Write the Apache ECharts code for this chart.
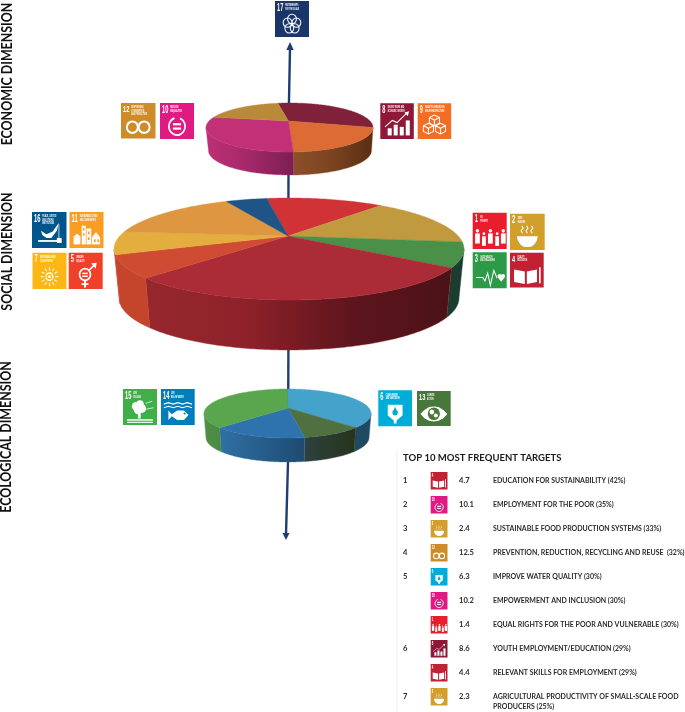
<!DOCTYPE html>
<html><head><meta charset="utf-8">
<style>html,body{margin:0;padding:0;background:#fff}#c{width:685px;height:712px}</style>
<script src="https://cdn.jsdelivr.net/npm/echarts@6/dist/echarts.min.js"></script>
</head><body><div id="c"></div>
<script>
// ---------- data (estimated shares of each pie, %) ----------
const econGoals = ['SDG 8','SDG 9','SDG 10','SDG 12'];
const econValues = [27.2,24.3,32.6,15.9];
const socialGoals = ['SDG 1','SDG 2','SDG 3','SDG 4','SDG 5','SDG 7','SDG 11','SDG 16'];
const socialValues = [10.8,14.0,8.3,34.2,7.9,7.3,13.7,3.8];
const ecoGoals = ['SDG 6','SDG 13','SDG 14','SDG 15'];
const ecoValues = [34.8,11.9,18.4,34.9];
const tableRanks = ['1','2','3','4','5','','','6','','7'];
const tableGoals = [4,10,2,12,6,10,1,8,4,2];
const tableTargets = ['4.7','10.1','2.4','12.5','6.3','10.2','1.4','8.6','4.4','2.3'];
const tableLabels = ['EDUCATION FOR SUSTAINABILITY (42%)','EMPLOYMENT FOR THE POOR (35%)','SUSTAINABLE FOOD PRODUCTION SYSTEMS (33%)','PREVENTION, REDUCTION, RECYCLING AND REUSE  (32%)','IMPROVE WATER QUALITY (30%)','EMPOWERMENT AND INCLUSION (30%)','EQUAL RIGHTS FOR THE POOR AND VULNERABLE (30%)','YOUTH EMPLOYMENT/EDUCATION (29%)','RELEVANT SKILLS FOR EMPLOYMENT (29%)','AGRICULTURAL PRODUCTIVITY OF SMALL-SCALE FOOD\nPRODUCERS (25%)'];
const goalTitles = {1:'NO\nPOVERTY',2:'ZERO\nHUNGER',3:'GOOD HEALTH\nAND WELL-BEING',4:'QUALITY\nEDUCATION',5:'GENDER\nEQUALITY',6:'CLEAN WATER\nAND SANITATION',7:'AFFORDABLE AND\nCLEAN ENERGY',8:'DECENT WORK AND\nECONOMIC GROWTH',9:'INDUSTRY, INNOVATION\nAND INFRASTRUCTURE',10:'REDUCED\nINEQUALITIES',11:'SUSTAINABLE CITIES\nAND COMMUNITIES',12:'RESPONSIBLE\nCONSUMPTION\nAND PRODUCTION',13:'CLIMATE\nACTION',14:'LIFE\nBELOW WATER',15:'LIFE\nON LAND',16:'PEACE, JUSTICE\nAND STRONG\nINSTITUTIONS',17:'PARTNERSHIPS\nFOR THE GOALS'};

// ---------- styles ----------
const goalColors = {1:'#ea1d2d',2:'#d19f2a',3:'#2d9a47',4:'#c22033',5:'#ef412a',6:'#00add8',7:'#fdb714',8:'#8f1838',9:'#f36e24',10:'#e01a83',11:'#f99d25',12:'#cd8b2a',13:'#48773c',14:'#007dbb',15:'#40ae49',16:'#00558a',17:'#1a3668'};
const econTop = ['#7f2239','#dc6b35','#c23078','#b98a3a'];
const econSide = [['#5a2e12','#5a2e12'],['#8c5028','#7a4320','#5a2e12'],['#bf2f75','#a3286a','#7c1e52'],['#999','#999']];
const socialTop = ['#d03236','#c19a40','#4a9049','#ab2b36','#cf4b32','#e4ae3e','#df9641','#1e5486'];
const socialSide = [['#333','#333'],['#333','#333'],['#1b3d30','#1b3d30'],['#96272f','#8e2129','#5f151d','#4a1216'],['#c4452c','#c4452c'],['#c4452c','#c4452c'],['#999','#999'],['#999','#999']];
const ecoTop = ['#45a2cb','#4f7040','#2e73ae','#5aa64e'];
const ecoSide = [['#1f4a60','#1e4a62'],['#2d413f','#27341a'],['#2f70a6','#1f4a70'],['#4f9147','#4a8a42']];

const geomEcon = {cx:289.5,cy:127.5,rx:83.5,ry:24.5,px:288.5,py:121,cx2:290,cy2:150.5,rx2:81.5,ry2:24.5,start:-8};
const geomSocial = {cx:289,cy:249,rx:175,ry:51,px:288,py:236,cx2:289,cy2:298,rx2:170,ry2:52,start:-7.3};
const geomEco = {cx:287.5,cy:413.5,rx:83.5,ry:24.5,px:288,py:408,cx2:287.5,cy2:437.5,rx2:81.5,ry2:24.5,start:0};

function pieSeries(name,names,values,tops,sides,g){
  const total = values.reduce((a,b)=>a+b,0);
  const rad = d=>d*Math.PI/180;
  const top = t=>[g.cx+g.rx*Math.sin(rad(t)),g.cy-g.ry*Math.cos(rad(t))];
  const bot = t=>[g.cx2+g.rx2*Math.sin(rad(t)),g.cy2-g.ry2*Math.cos(rad(t))];
  return {
    type:'custom',name,coordinateSystem:'none',silent:true,
    data:values.map((v,i)=>({name:names[i],value:[v]})),
    renderItem(params,api){
      const i = params.dataIndex;
      let before = 0; for(let k=0;k<i;k++) before += values[k];
      const t0 = g.start+before/total*360, t1 = t0+api.value(0)/total*360;
      const children = [];
      const a = Math.max(t0,90), b = Math.min(t1,270);
      if(b>a){
        const pts=[]; 
        for(let t=a;t<b;t+=1) pts.push(top(t)); pts.push(top(b));
        for(let t=b;t>a;t-=1) pts.push(bot(t)); pts.push(bot(a));
        const st = sides[i];
        children.push({type:'polygon',shape:{points:pts},style:{
          fill:new echarts.graphic.LinearGradient(0,0,1,0,st.map((c,k)=>({offset:k/(st.length-1),color:c}))),
          stroke:st[0],lineWidth:0.4}});
      }
      const pts=[[g.px,g.py]];
      for(let t=t0;t<t1;t+=1) pts.push(top(t)); pts.push(top(t1));
      children.push({type:'polygon',shape:{points:pts},style:{fill:tops[i],stroke:tops[i],lineWidth:0.4}});
      return {type:'group',children};
    }
  };
}

// ---------- SDG badges ----------
const W='#fff';
const R=(x,y,w,h,f)=>({type:'rect',shape:{x,y,width:w,height:h},style:{fill:f||W}});
const C=(cx,cy,r,f)=>({type:'circle',shape:{cx,cy,r},style:{fill:f||W}});
const O=(cx,cy,r,lw,s)=>({type:'circle',shape:{cx,cy,r},style:{fill:'none',stroke:s||W,lineWidth:lw||3}});
const L=(p,lw,s)=>({type:'polyline',shape:{points:p},style:{fill:'none',stroke:s||W,lineWidth:lw||3}});
const P=(p,f)=>({type:'polygon',shape:{points:p},style:{fill:f||W}});
const A=(cx,cy,r,s,e,lw)=>({type:'arc',shape:{cx,cy,r,startAngle:s,endAngle:e},style:{fill:'none',stroke:W,lineWidth:lw||4}});
const S=(cx,cy,r,s,e)=>({type:'sector',shape:{cx,cy,r,r0:0,startAngle:s,endAngle:e},style:{fill:W}});
function icon(n,c){
  const o=[];
  switch(n){
    case 1:[[14,0],[33,1],[52,0],[72,1],[90,0]].forEach(([x,k])=>{const s=k?.8:1;o.push(C(x,50+(k?8:0),5*s),R(x-7*s,57+(k?8:0),14*s,28*s+(k?4:0)));});break;
    case 2:o.push(S(50,62,30,0,Math.PI),L([[36,54],[32,47],[38,40],[34,33]],3),L([[50,54],[46,47],[52,40],[48,33]],3),L([[64,54],[60,47],[66,40],[62,33]],3));break;
    case 3:o.push(L([[10,70],[30,70],[36,80],[44,58],[52,92],[62,50],[72,72]],3),C(79,66,6),C(89,66,6),P([[73.5,69],[94.5,69],[84,82]]));break;
    case 4:o.push(P([[12,48],[44,54],[44,90],[12,84]]),P([[50,54],[80,48],[80,84],[50,90]]),R(86,42,5,46));break;
    case 5:o.push(O(48,60,16,5),L([[60,48],[78,32]],5),P([[66,30],[82,28],[80,44]]),R(45,76,6,20),R(38,84,20,5),R(40,55,16,4),R(40,63,16,4));break;
    case 6:o.push(P([[28,40],[72,40],[72,70],[54,84],[54,92],[46,92],[46,84],[28,70]]),C(50,62,8,c),P([[50,46],[43,60],[57,60]],c));break;
    case 7:o.push(O(50,66,10,4),C(50,66,4));for(let k=0;k<12;k++){const t=k*Math.PI/6;o.push(L([[50+17*Math.cos(t),66+17*Math.sin(t)],[50+26*Math.cos(t),66+26*Math.sin(t)]],3));}break;
    case 8:o.push(R(22,70,12,20),R(40,60,12,30),R(58,66,12,24),R(76,48,12,42),L([[14,66],[36,48],[50,54],[78,28]],3),P([[72,26],[86,22],[82,36]]));break;
    case 9:[[50,45],[32,68],[68,68]].forEach(([x,y])=>{o.push(L([[x,y-12],[x+15,y-5],[x+15,y+11],[x,y+18],[x-15,y+11],[x-15,y-5],[x,y-12]],3),L([[x-15,y-5],[x,y+2],[x+15,y-5]],3),L([[x,y+2],[x,y+18]],3));});break;
    case 10:o.push(A(50,65,24,-1.2,4.4,5),R(38,56,24,6),R(38,68,24,6));break;
    case 11:o.push(R(12,70,20,20),P([[10,70],[22,60],[34,70]]),R(36,38,12,52),R(50,46,14,44),R(66,70,24,20),P([[66,70],[78,56],[90,70]]),R(40,44,4,8,c),R(40,58,4,8,c),R(54,54,5,8,c),R(54,70,5,8,c),R(72,76,5,8,c),R(82,76,5,8,c));break;
    case 12:o.push(O(33,68,16,6),O(67,68,16,6));break;
    case 13:o.push(P([[10,66],[22,54],[36,46],[50,44],[64,46],[78,54],[90,66],[78,78],[64,85],[50,87],[36,85],[22,78]]),C(50,65,18,c),C(44,60,7),C(56,70,6));break;
    case 14:o.push(L([[8,42],[22,38],[36,42],[50,38],[64,42],[78,38],[92,42]],3),L([[8,52],[22,48],[36,52],[50,48],[64,52],[78,48],[92,52]],3),P([[22,60],[32,70],[48,60],[68,60],[82,72],[68,86],[48,86],[32,76],[22,86]]),C(70,68,3,c));break;
    case 15:o.push(C(38,48,12),C(50,42,11),C(56,54,12),C(44,58,12),R(44,60,8,22),R(12,84,76,4),R(12,91,76,3),L([[66,40],[86,34]],2),L([[68,56],[90,52]],2));break;
    case 16:o.push(P([[26,52],[42,62],[60,54],[78,30],[72,52],[56,72],[42,72],[30,64]]),R(18,78,56,5),R(72,72,14,14),L([[78,72],[78,34]],2));break;
    case 17:[[50,50],[63,60],[58,76],[42,76],[37,60]].forEach(([x,y])=>o.push(O(x,y,13,3)));break;
  }
  return o;
}
function badge(n,x,y,w,h,withTitle){
  const c=goalColors[n];
  const children=[R(0,0,100,100,c),{type:'text',x:6,y:5,scaleX:.6,style:{text:String(n),x:0,y:0,fill:W,font:'bold 28px "Liberation Sans"',textAlign:'left',textVerticalAlign:'top'}}];
  if(withTitle) children.push({type:'text',x:n>9?30:22,y:7,scaleX:.55,style:{text:goalTitles[n],x:0,y:0,fill:W,font:'bold 9px "Liberation Sans"',lineHeight:10,textAlign:'left',textVerticalAlign:'top'}});
  return {type:'group',x,y,scaleX:w/100,scaleY:h/100,silent:true,children:children.concat(icon(n,c))};
}
const badges=[[17,275,1,34,36],[12,121,103,34.5,35.5],[10,160,103,34,36],[8,380.3,103.3,33.5,35.7],[9,417.7,103.3,33.5,35.7],
[16,32,212,34.5,36],[11,69.5,212,34,36],[7,32.5,252.7,34,36.3],[5,68.7,252.7,34,36.3],
[1,472.7,212.7,34,36.3],[2,510,213.7,34.7,36.3],[3,472.7,252.3,34,36],[4,510,252.7,33.7,34.8],
[15,123,389,34,36],[14,161,389,33.7,36],[6,378.3,390.3,33.7,36],[13,417,391,33.7,35]];

// ---------- text + annotations ----------
const gfx=[];
badges.forEach(b=>gfx.push(badge(b[0],b[1],b[2],b[3],b[4],true)));
const dimFont='700 14.5px Lato';
[['ECONOMIC DIMENSION',7,74],['SOCIAL DIMENSION',7,251.5],['ECOLOGICAL DIMENSION',6,437]].forEach(([t,x,y])=>{
  gfx.push({type:'text',x,y,rotation:Math.PI/2,scaleX:.855,silent:true,style:{text:t,x:0,y:0,fill:'#111',font:dimFont,textAlign:'center',textVerticalAlign:'middle'}});
});
// axis arrow
const arrowColor='#1f3d73';
[[[290,48],[288.6,geomEcon.py]],[[288.5,175],[288.3,geomSocial.py]],[[288.4,350],[288.2,geomEco.py]],[[288,462],[286,534]]].forEach(p=>{
  gfx.push({type:'polyline',silent:true,shape:{points:p},style:{fill:'none',stroke:arrowColor,lineWidth:2.4}});
});
gfx.push({type:'polygon',silent:true,shape:{points:[[290,42],[293.7,50],[286.3,50]]},style:{fill:arrowColor}});
gfx.push({type:'polygon',silent:true,shape:{points:[[286,540],[282.5,533],[289.5,533]]},style:{fill:arrowColor}});
// table
const tFont='700 7.6px Lato', tColor='#2b2b2b';
gfx.push({type:'line',silent:true,shape:{x1:397,y1:450,x2:397,y2:712},style:{stroke:'#f0f0f0',lineWidth:1}});
gfx.push({type:'text',silent:true,x:403,y:458,scaleX:1.06,style:{text:'TOP 10 MOST FREQUENT TARGETS',x:0,y:0,fill:'#1a1a1a',font:'700 9px Lato',textAlign:'left',textVerticalAlign:'middle'}});
tableLabels.forEach((lab,i)=>{
  const y=480.7+24*i;
  const tx=(t,x,yy,sx)=>({type:'text',silent:true,x,y:yy,scaleX:sx||1,style:{text:t,x:0,y:0,fill:tColor,font:tFont,textAlign:'left',textVerticalAlign:'middle'}});
  if(tableRanks[i]) gfx.push(tx(tableRanks[i],403,y));
  gfx.push(badge(tableGoals[i],430.7,y-8.7,16.8,17.5,false));
  gfx.push(tx(tableTargets[i],459,y));
  lab.split('\n').forEach((s,k)=>gfx.push(tx(s,493,y+k*9.6,.92)));
});

const chart=echarts.init(document.getElementById('c'),null,{renderer:'canvas',width:685,height:712});
chart.setOption({
  animation:false,backgroundColor:'#fff',
  series:[
    pieSeries('Economic dimension',econGoals,econValues,econTop,econSide,geomEcon),
    pieSeries('Social dimension',socialGoals,socialValues,socialTop,socialSide,geomSocial),
    pieSeries('Ecological dimension',ecoGoals,ecoValues,ecoTop,ecoSide,geomEco)
  ],
  graphic:{elements:gfx}
});
</script></body></html>
